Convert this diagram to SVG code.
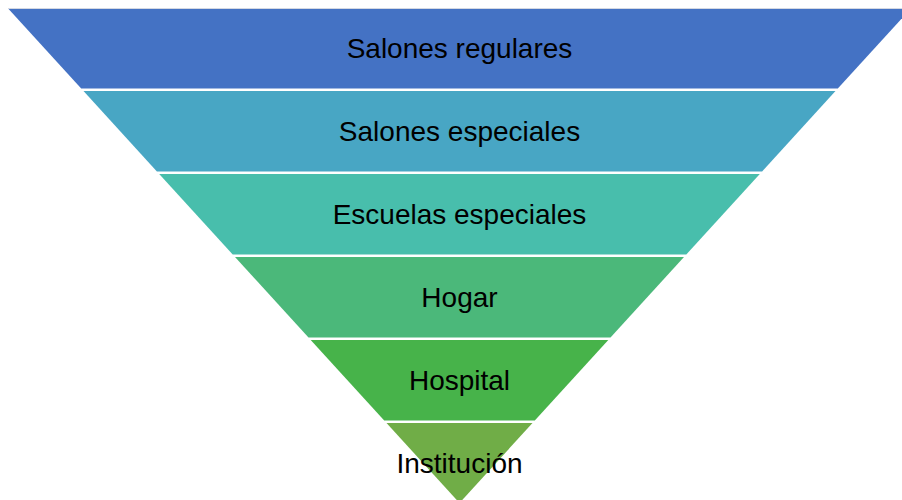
<svg xmlns="http://www.w3.org/2000/svg" width="902" height="500" viewBox="0 0 902 500">
  <style>
    .lbl { font-family: "Liberation Sans", Arial, sans-serif; font-size: 28px; fill: #000000; text-anchor: middle; }
  </style>
  <rect x="0" y="0" width="902" height="500" fill="#ffffff"/>
  <line x1="8" y1="8.5" x2="902" y2="8.5" stroke="#d3d8e3" stroke-width="1"/>
  <g id="band1">
    <polygon points="8.6,9 910.4,9 837.8,88.5 81.2,88.5" fill="#4472C4"/>
    <text class="lbl" x="459.5" y="58">Salones regulares</text>
  </g>
  <g id="band2">
    <polygon points="83.5,91 835.5,91 762.1,171.5 156.9,171.5" fill="#48A6C4"/>
    <text class="lbl" x="459.5" y="141">Salones especiales</text>
  </g>
  <g id="band3">
    <polygon points="159.2,174 759.8,174 686.3,254.5 232.7,254.5" fill="#48BEAC"/>
    <text class="lbl" x="459.5" y="224">Escuelas especiales</text>
  </g>
  <g id="band4">
    <polygon points="235,257 684,257 610.5,337.5 308.5,337.5" fill="#4BB87A"/>
    <text class="lbl" x="459.5" y="307">Hogar</text>
  </g>
  <g id="band5">
    <polygon points="310.7,340 608.3,340 534.8,420.5 384.2,420.5" fill="#47B34A"/>
    <text class="lbl" x="459.5" y="390">Hospital</text>
  </g>
  <g id="band6">
    <polygon points="386.5,423 532.5,423 459.5,503" fill="#70AD47"/>
    <text class="lbl" x="459.5" y="473">Institución</text>
  </g>
  <g id="connectors"></g>
</svg>
